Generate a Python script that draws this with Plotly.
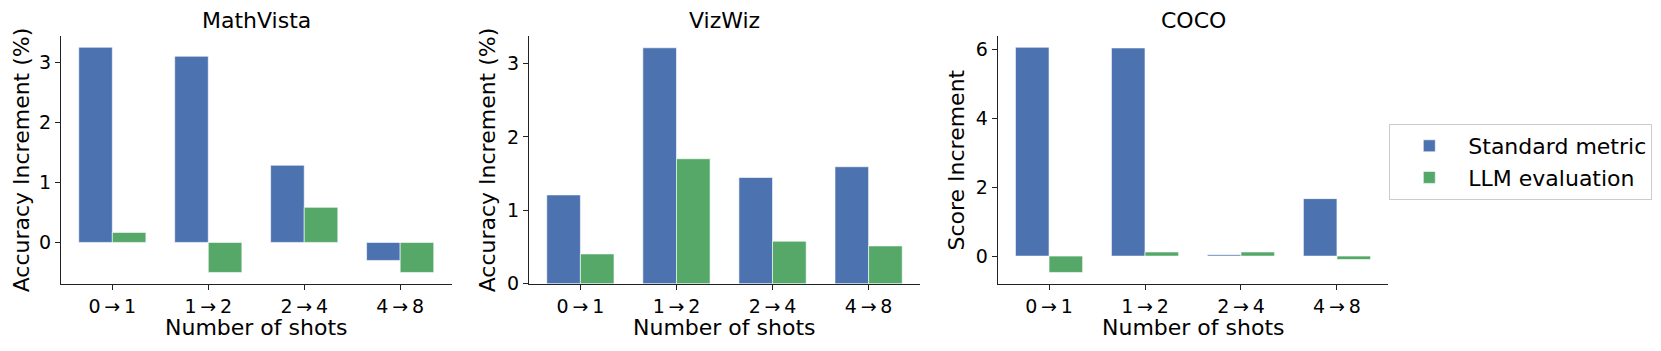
import plotly.graph_objects as go
from plotly.subplots import make_subplots

# shot transitions on the x axis
categories = ["0\u2009\u2192\u20091", "1\u2009\u2192\u20092", "2\u2009\u2192\u20094", "4\u2009\u2192\u20098"]

mathvista_standard = [3.25, 3.10, 1.285, -0.30]
mathvista_llm = [0.167, -0.50, 0.584, -0.50]

vizwiz_standard = [1.21, 3.215, 1.448, 1.594]
vizwiz_llm = [0.406, 1.703, 0.579, 0.515]

coco_standard = [6.07, 6.05, 0.04, 1.67]
coco_llm = [-0.475, 0.12, 0.12, -0.10]

panel_titles = ["MathVista", "VizWiz", "COCO"]
y_titles = ["Accuracy Increment (%)", "Accuracy Increment (%)", "Score Increment"]
y_dticks = [1, 1, 2]

BLUE = "#4C72B0"
GREEN = "#55A868"
W, H = 1661, 351
FONT = "DejaVu Sans"

panels = [
    (mathvista_standard, mathvista_llm),
    (vizwiz_standard, vizwiz_llm),
    (coco_standard, coco_llm),
]

# plot areas in pixels (left, right), shared top/bottom
x_px = [(61, 451.5), (529, 920), (997.7, 1388.3)]
y_top, y_bot = 36, 283.7
ytitle_px = [21.5, 487.5, 956.7]


def mpl_range(lo, hi):
    # matplotlib-like 5% margins, with bars sticking to zero
    lo, hi = min(lo, 0), max(hi, 0)
    span = hi - lo
    new_lo = lo - 0.05 * span if lo < 0 else 0
    new_hi = hi + 0.05 * span if hi > 0 else 0
    return [new_lo, new_hi]


fig = make_subplots(rows=1, cols=3)

for i, (std, llm) in enumerate(panels):
    col = i + 1
    fig.add_trace(go.Bar(
        x=categories, y=std, name="Standard metric", marker_color=BLUE,
        marker_line=dict(color="rgba(255,255,255,0.6)", width=1),
        showlegend=(i == 0), legendgroup="std",
    ), row=1, col=col)
    fig.add_trace(go.Bar(
        x=categories, y=llm, name="LLM evaluation", marker_color=GREEN,
        marker_line=dict(color="rgba(255,255,255,0.6)", width=1),
        showlegend=(i == 0), legendgroup="llm",
    ), row=1, col=col)

    suffix = "" if i == 0 else str(col)
    l, r = x_px[i]
    fig.layout["xaxis" + suffix].update(
        domain=[l / W, r / W], range=[-0.535, 3.535], automargin=False,
        showline=True, linecolor="#222", linewidth=1.2,
        ticks="outside", ticklen=5, tickwidth=1.1, tickcolor="#222",
        showgrid=False, zeroline=False,
        tickfont=dict(family=FONT, size=19, color="black"),
    )
    fig.layout["yaxis" + suffix].update(
        domain=[1 - y_bot / H, 1 - y_top / H], automargin=False,
        range=mpl_range(min(std + llm), max(std + llm)),
        dtick=y_dticks[i], tick0=0,
        showline=True, linecolor="#222", linewidth=1.2,
        ticks="outside", ticklen=5, tickwidth=1.1, tickcolor="#222",
        showgrid=False, zeroline=False,
        tickfont=dict(family=FONT, size=19, color="black"),
    )

    cx = (l + r) / 2 / W
    fig.add_annotation(text=panel_titles[i], xref="paper", yref="paper",
                       x=cx, y=1 - y_top / H, xanchor="center", yanchor="bottom",
                       yshift=1, showarrow=False,
                       font=dict(family=FONT, size=22, color="black"))
    fig.add_annotation(text="Number of shots", xref="paper", yref="paper",
                       x=cx, y=1 - 327 / H, xanchor="center", yanchor="middle",
                       showarrow=False,
                       font=dict(family=FONT, size=22, color="black"))
    fig.add_annotation(text=y_titles[i], xref="paper", yref="paper",
                       x=ytitle_px[i] / W, y=1 - (y_top + y_bot) / 2 / H,
                       xanchor="center", yanchor="middle", textangle=-90,
                       showarrow=False,
                       font=dict(family=FONT, size=22, color="black"))

fig.update_layout(
    width=W, height=H, autosize=False,
    margin=dict(l=0, r=0, t=0, b=0, pad=0),
    barmode="group", bargap=0.3, bargroupgap=0,
    plot_bgcolor="white", paper_bgcolor="white",
    font=dict(family=FONT, color="black"),
    legend=dict(
        x=1389.3 / W, y=1 - 124 / H, xanchor="left", yanchor="top",
        bordercolor="#cccccc", borderwidth=1, bgcolor="white",
        font=dict(family=FONT, size=22, color="black"),
        itemwidth=68, tracegroupgap=0,
    ),
)

# drop the default page margin so the figure sits at the window's top-left
fig.write_html(
    "out.html",
    config={"displayModeBar": False, "responsive": False},
    post_script="document.body.style.margin='0';document.body.style.overflow='hidden';",
)
